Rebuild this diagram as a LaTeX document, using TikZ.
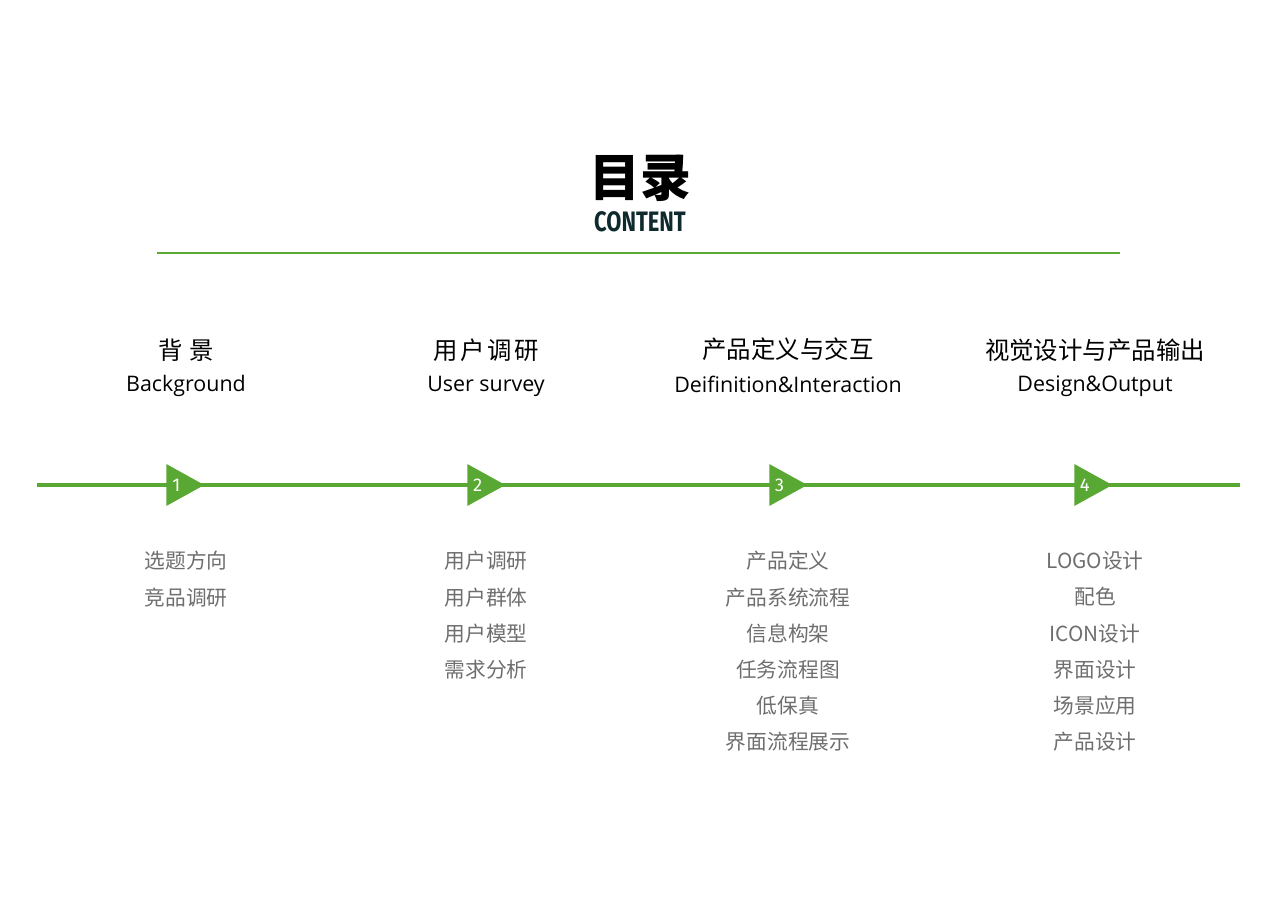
\documentclass[tikz,border=0pt]{standalone}
\usepackage{fontspec}
\setmainfont{Noto Sans CJK SC}
\newfontfamily\latinfont{Open Sans}
\newfontfamily\headfont{Fira Sans}
\usepackage{xcolor}
\usetikzlibrary{positioning, shapes.geometric}
\definecolor{lineGreen}{HTML}{5AA834}
\definecolor{itemGray}{HTML}{6E6E6E}
\definecolor{titleTeal}{HTML}{0E2A2C}

\begin{document}
\begin{tikzpicture}[x=0.02cm, y=-0.02cm,
    cnhead/.style={inner sep=0pt, font=\fontsize{13.9}{16}\selectfont},
    enhead/.style={inner sep=0pt, font=\latinfont\fontsize{12.2}{14}\selectfont},
    itemlist/.style={inner sep=0pt, anchor=north, align=center, text=itemGray, font=\fontsize{11.8}{20.6}\selectfont},
    marker/.style={isosceles triangle, isosceles triangle apex angle=58, isosceles triangle stretches,
      minimum height=0.76cm, minimum width=0.84cm, inner sep=0pt, fill=lineGreen, anchor=apex,
      text=white, font=\headfont\fontsize{10.5}{12}\selectfont}]
  \useasboundingbox (0,0) rectangle (1280,905);

  % Title block
  \node[inner sep=0pt, font=\bfseries\fontsize{29}{32}\selectfont] at (640,178) (title) {目录};
  \node[inner sep=0pt, text=titleTeal, font=\headfont\bfseries\fontsize{16}{18}\selectfont] at (640,222) (subtitle) {\scalebox{0.78}[1]{CONTENT}};
  \coordinate (rule l) at (157,253);
  \coordinate (rule r) at (1120,253);
  \draw[lineGreen, line width=0.7pt] (rule l) -- (rule r);

  % Column headings
  \node[cnhead] at (186,350) (h1) {背\hspace{4pt}景};
  \node[enhead] at (186,386) (e1) {Background};
  \node[cnhead] at (486,350) (h2) {用\hspace{1.5pt}户\hspace{1.5pt}调\hspace{1.5pt}研};
  \node[enhead] at (486,386) (e2) {User survey};
  \node[cnhead] at (788,349) (h3) {产品定义与交互};
  \node[enhead] at (788,384) (e3) {Deifinition\&Interaction};
  \node[cnhead] at (1095,350) (h4) {视觉设计与产品输出};
  \node[enhead] at (1095,386) (e4) {Design\&Output};

  % Time line with markers
  \coordinate (tl start) at (37,485);
  \coordinate (tl end) at (1240,485);
  \draw[lineGreen, line width=2pt] (tl start) -- (tl end);
  \node[marker] at (205,485) (m1) {1};
  \node[marker] at (506,485) (m2) {2};
  \node[marker] at (808,485) (m3) {3};
  \node[marker] at (1113,485) (m4) {4};

  % Sub items
  \node[itemlist] at (186,551) (l1) {选题方向\\竞品调研};
  \node[itemlist] at (486,551) (l2) {用户调研\\用户群体\\用户模型\\需求分析};
  \node[itemlist] at (788,551) (l3) {产品定义\\产品系统流程\\信息构架\\任务流程图\\低保真\\界面流程展示};
  \node[itemlist] at (1095,551) (l4) {LOGO设计\\配色\\ICON设计\\界面设计\\场景应用\\产品设计};
\end{tikzpicture}
\end{document}
